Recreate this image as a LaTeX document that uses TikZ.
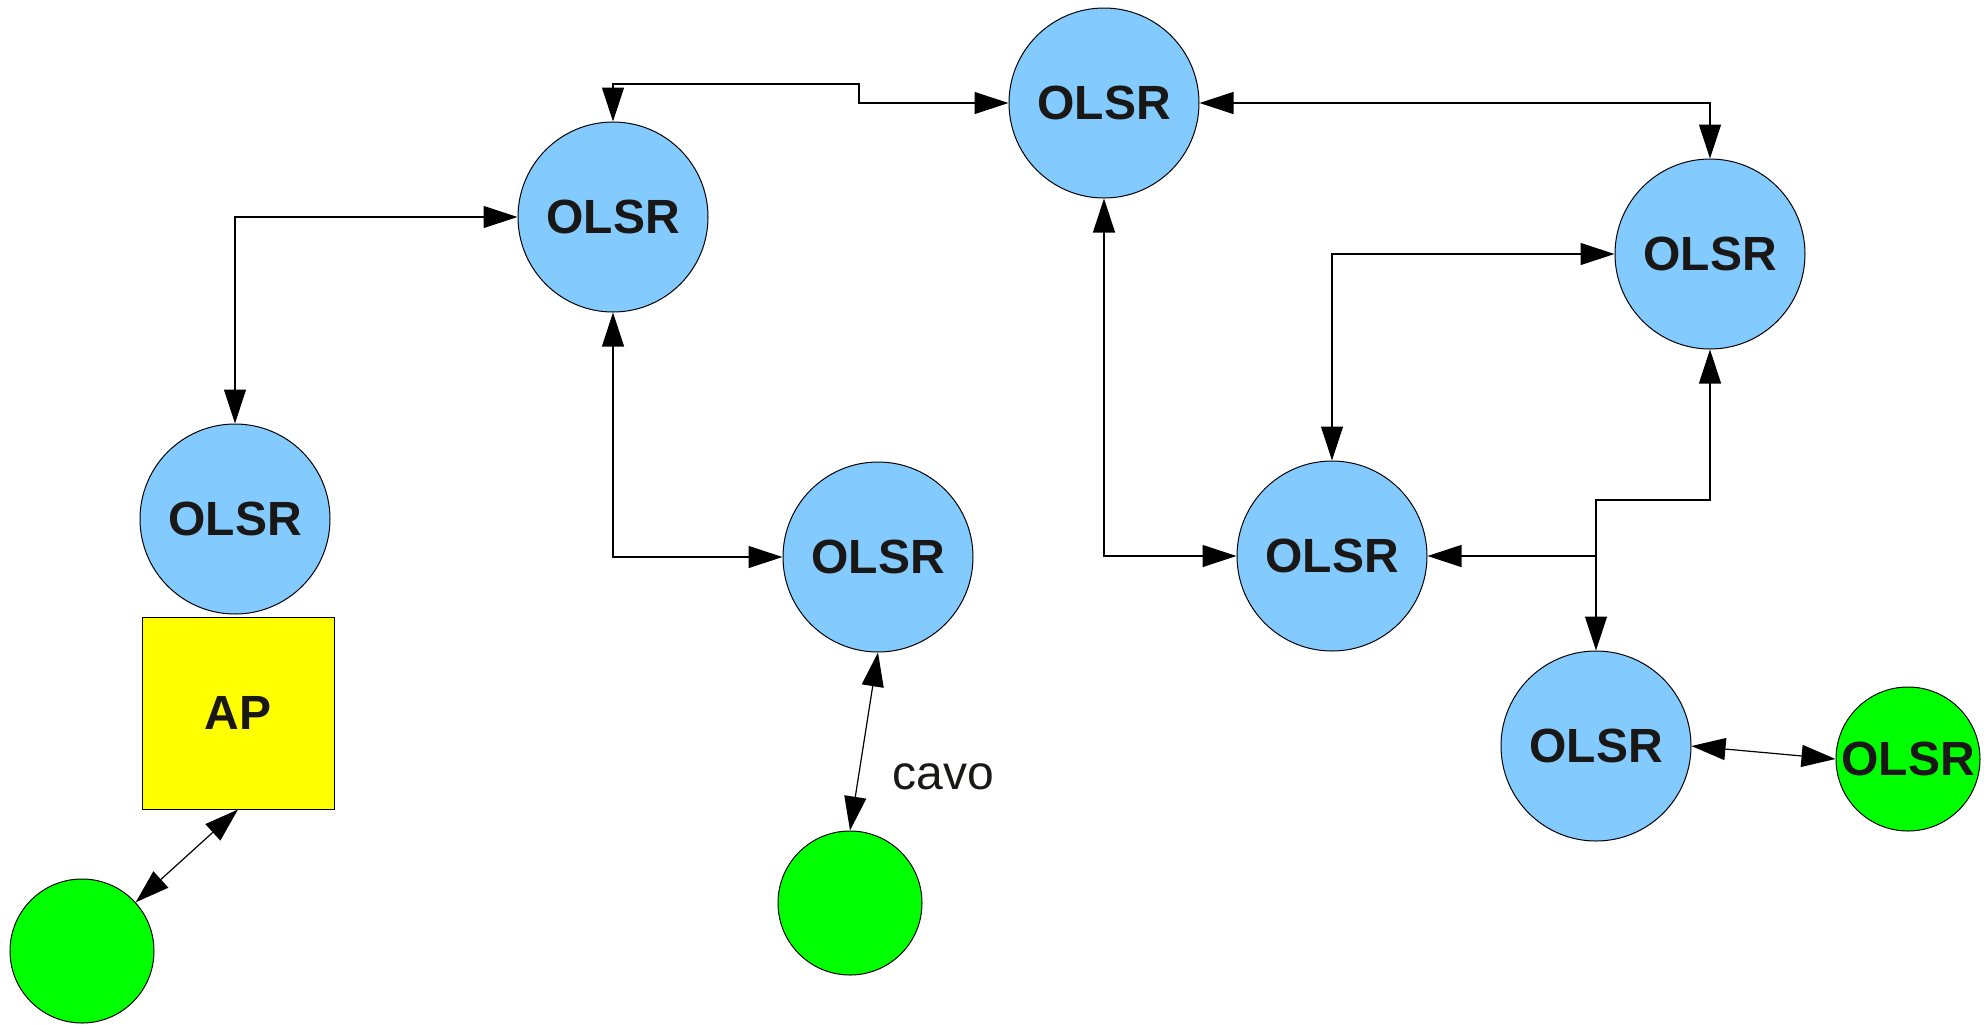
\documentclass[tikz,border=0pt]{standalone}
\usepackage{fontspec}
\setmainfont{Liberation Sans}
\usetikzlibrary{arrows.meta}
\definecolor{olsrblue}{RGB}{131,202,255}
\definecolor{hostgreen}{RGB}{0,255,0}
\definecolor{apyellow}{RGB}{255,255,0}
\definecolor{txtgray}{RGB}{26,24,22}

\begin{document}
\begin{tikzpicture}[x=0.5pt,y=-0.5pt,
	olsr/.style={circle,draw,line width=0.5pt,fill=olsrblue,minimum size=95pt,inner sep=0pt,text=txtgray,font=\fontsize{24}{28}\selectfont\bfseries},
	host/.style={circle,draw,line width=0.5pt,fill=hostgreen,minimum size=72pt,inner sep=0pt,text=txtgray,font=\fontsize{24}{28}\selectfont\bfseries},
	link/.style={line width=0.6pt,>={Triangle[length=17pt,width=11pt]}}]
							\useasboundingbox (0,0) rectangle (1988,1024);
							
							\node[olsr] (top) at (1104,103) {OLSR};
							\node[olsr] (ul) at (613,217) {OLSR};
							\node[olsr] (l) at (235,519) {OLSR};
							\node[olsr] (mid) at (878,557) {OLSR};
							\node[olsr] (ru) at (1710,254) {OLSR};
							\node[olsr] (rm) at (1332,556) {OLSR};
							\node[olsr] (rl) at (1596,746) {OLSR};
							\node[rectangle,draw,line width=0.5pt,fill=apyellow,minimum size=96pt,inner sep=0pt,text=txtgray,font=\fontsize{24}{28}\selectfont\bfseries] (ap) at (238,713) {AP};
							\node[host] (gbl) at (82,951) {};
							\node[host] (gmid) at (850,903) {};
							\node[host] (gr) at (1908,759) {OLSR};
							\node[text=txtgray,font=\fontsize{24}{29}\selectfont,inner sep=0pt] (cavo) at (943,777) {cavo};
							
							\coordinate (A) at (859,84);
							\coordinate (K) at (1596,500);
							\coordinate (J) at (1596,556);
							
							\draw[link,<->] (ul.north) |- (A) |- (top.west);
							\draw[link,<->] (ul.west) -| (l.north);
							\draw[link,<->] (ul.south) |- (mid.west);
							\draw[link,<->] (gbl) -- (ap.south);
							\draw[link,<->] (mid.south) -- (gmid.north);
							\draw[link,<->] (top.east) -| (ru.north);
							\draw[link,<->] (top.south) |- (rm.west);
							\draw[link,<->] (ru.west) -| (rm.north);
							\draw[link,<-] (ru.south) |- (K) -- (J);
							\draw[link,->] (J) -- (rl.north);
							\draw[link,->] (J) -- (rm.east);
							\draw[link,<->] (rl.east) -- (gr.west);
						\end{tikzpicture}
\end{document}
